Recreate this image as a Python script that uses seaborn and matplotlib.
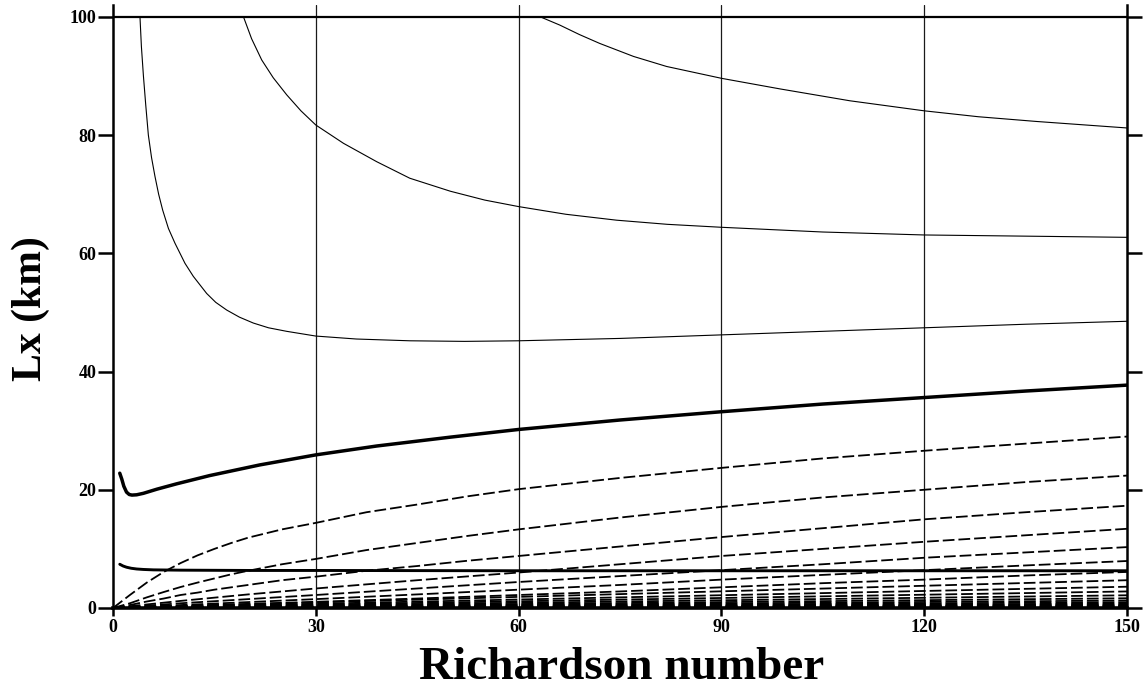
import matplotlib
matplotlib.use("Agg")
import matplotlib.pyplot as plt
import seaborn as sns
import pandas as pd

# ---- curve data (Richardson number vs. Lx in km) ----
# thin solid curves
ri_a = [3.99, 4.2, 4.5, 4.85, 5.23, 5.7, 6.21, 6.75, 7.35, 8.2, 9.17, 10.65, 11.88, 13.86, 15.2,
        16.82, 18.7, 20.76, 23.0, 25.69, 30, 36, 43.9, 52, 60, 75, 90, 105, 120, 135, 150]
lx_a = [100, 95, 90, 85, 80.0, 76.2, 73.0, 70.0, 67.3, 64.2, 61.7, 58.3, 56.1, 53.2, 51.7,
        50.4, 49.2, 48.2, 47.4, 46.8, 46.0, 45.5, 45.2, 45.1, 45.2, 45.6, 46.2, 46.8, 47.4, 48.0, 48.5]

ri_b = [19.3, 20.5, 22.0, 23.7, 25.7, 27.8, 30, 34.1, 39.0, 43.9, 49.9, 55, 60, 67, 74.5, 82,
        90, 105, 120, 135, 150]
lx_b = [100, 96.3, 92.7, 89.7, 86.8, 84.1, 81.7, 78.6, 75.5, 72.7, 70.5, 69.0, 67.9, 66.6, 65.6, 64.9,
        64.4, 63.6, 63.1, 62.9, 62.7]

ri_c = [63.2, 66.1, 69.0, 72.0, 77, 81.9, 90, 98.7, 109, 120, 128, 136.6, 150]
lx_c = [100, 98.6, 97.0, 95.5, 93.3, 91.6, 89.6, 87.8, 85.8, 84.1, 83.1, 82.3, 81.2]

# thick solid curves
ri_d = [1.0, 1.3, 1.6, 2.0, 2.4, 2.8, 3.5, 4.5, 6.5, 9.4, 14.3, 21.7, 30, 39, 49.9, 60, 75, 90,
        105, 120, 135, 150]
lx_d = [22.8, 21.8, 20.6, 19.6, 19.2, 19.1, 19.15, 19.4, 20.1, 21.0, 22.4, 24.2, 25.9, 27.4, 28.9,
        30.2, 31.8, 33.2, 34.5, 35.6, 36.7, 37.7]

ri_e = [1.0, 1.5, 2.0, 2.7, 3.5, 4.5, 6, 10, 20, 30, 60, 90, 120, 150]
lx_e = [7.4, 7.1, 6.9, 6.72, 6.6, 6.52, 6.45, 6.4, 6.35, 6.35, 6.3, 6.3, 6.3, 6.3]

# dashed curves, upper family
ri_dash = [0, 2.5, 5, 7.5, 10, 12.5, 15, 17.5, 20, 25, 30, 37.5, 45, 52.5, 60, 75, 90, 105, 120, 135, 150]
dash_1 = [0, 2.2, 4.3, 6.1, 7.6, 8.9, 10.0, 11.0, 11.9, 13.3, 14.4, 16.2, 17.5, 18.9, 20.1, 22.0,
          23.7, 25.3, 26.6, 27.8, 29.0]
dash_2 = [0, 0.8, 1.8, 2.7, 3.55, 4.3, 5.0, 5.7, 6.3, 7.4, 8.3, 9.8, 11.0, 12.2, 13.3, 15.3,
          17.1, 18.7, 20.0, 21.3, 22.4]
dash_3 = [0, 0.5, 1.1, 1.6, 2.2, 2.6, 3.1, 3.5, 3.9, 4.7, 5.3, 6.3, 7.1, 8.0, 8.8, 10.4,
          12.0, 13.5, 15.0, 16.2, 17.3]

ri_mid = [0, 10, 20, 30, 45, 60, 75, 90, 105, 120, 135, 150]
dash_4 = [0, 1.2, 2.3, 3.3, 4.7, 6.0, 7.4, 8.8, 10.0, 11.2, 12.3, 13.4]
dash_5 = [0, 0.8, 1.5, 2.2, 3.3, 4.4, 5.4, 6.4, 7.4, 8.5, 9.4, 10.3]
dash_6 = [0, 0.5, 1.0, 1.5, 2.3, 3.1, 3.9, 4.8, 5.6, 6.4, 7.2, 7.95]
dash_7 = [0, 0.35, 0.7, 1.05, 1.6, 2.2, 2.8, 3.5, 4.2, 4.8, 5.5, 6.1]

# dashed curves, lower family (nearly straight)
ri_low = [0, 75, 150]
low_at_75 = [2.35, 1.8, 1.42, 1.1, 0.84, 0.65, 0.5, 0.38, 0.29, 0.23, 0.18, 0.14, 0.1]
low_at_150 = [4.7, 3.6, 2.8, 2.15, 1.65, 1.27, 0.98, 0.75, 0.58, 0.45, 0.35, 0.27, 0.2]

x_ticks = [0, 30, 60, 90, 120, 150]
y_ticks = [0, 20, 40, 60, 80, 100]

sns.set_theme(style="white")
plt.rcParams["font.family"] = ["Liberation Serif", "DejaVu Serif"]
plt.rcParams["font.weight"] = "bold"
plt.rcParams["text.color"] = "black"

fig = plt.figure(figsize=(11.46, 7.0), dpi=100)
ax = fig.add_axes([113 / 1146, 1 - 608 / 700, (1127 - 113) / 1146, (608 - 5) / 700])
ax.set_xlim(0, 150)
ax.set_ylim(0, 102)

# vertical guide lines and the 100 km cap
for xv in x_ticks[1:-1]:
    ax.axvline(xv, color="#1a1a1a", lw=0.9, zorder=1)
ax.axhline(100, color="black", lw=1.6, zorder=3)

dash_style = (0, (6.5, 2.2))


def draw(ri, lx, lw, ls="-"):
    df = pd.DataFrame({"ri": ri, "lx": lx})
    sns.lineplot(data=df, x="ri", y="lx", ax=ax, color="black", lw=lw,
                 linestyle=ls, estimator=None, sort=False, zorder=2)


for ri, lx in [(ri_a, lx_a), (ri_b, lx_b), (ri_c, lx_c)]:
    draw(ri, lx, 0.8)

draw(ri_d, lx_d, 2.5)
draw(ri_e, lx_e, 2.1)

for series in [dash_1, dash_2, dash_3]:
    draw(ri_dash, series, 1.3, dash_style)
for series in [dash_4, dash_5, dash_6, dash_7]:
    draw(ri_mid, series, 1.3, dash_style)

for v75, v150 in zip(low_at_75, low_at_150):
    draw(ri_low, [0, v75, v150], 1.3, dash_style)

# frame
ax.spines["top"].set_visible(False)
for side in ["left", "right"]:
    ax.spines[side].set_linewidth(1.8)
    ax.spines[side].set_color("black")
ax.spines["bottom"].set_linewidth(2.6)
ax.spines["bottom"].set_color("black")

ax.set_xticks(x_ticks)
ax.set_yticks(y_ticks)
ax.tick_params(axis="y", left=True, right=True, direction="out", length=11,
               width=1.8, colors="black", labelsize=13, pad=1)
ax.tick_params(axis="x", bottom=True, direction="out", length=6, width=1.8,
               colors="black", labelsize=13, pad=2)
ax.set_xlabel("")
ax.set_ylabel("")

fig.text(622 / 1146, 1 - 668 / 700, "Richardson number", fontsize=34, fontweight="bold",
         color="black", ha="center", va="center")
fig.text(31 / 1146, 1 - 309 / 700, "Lx (km)", fontsize=30, fontweight="bold",
         color="black", ha="center", va="center", rotation=90)

fig.savefig("out.png", dpi=100)
